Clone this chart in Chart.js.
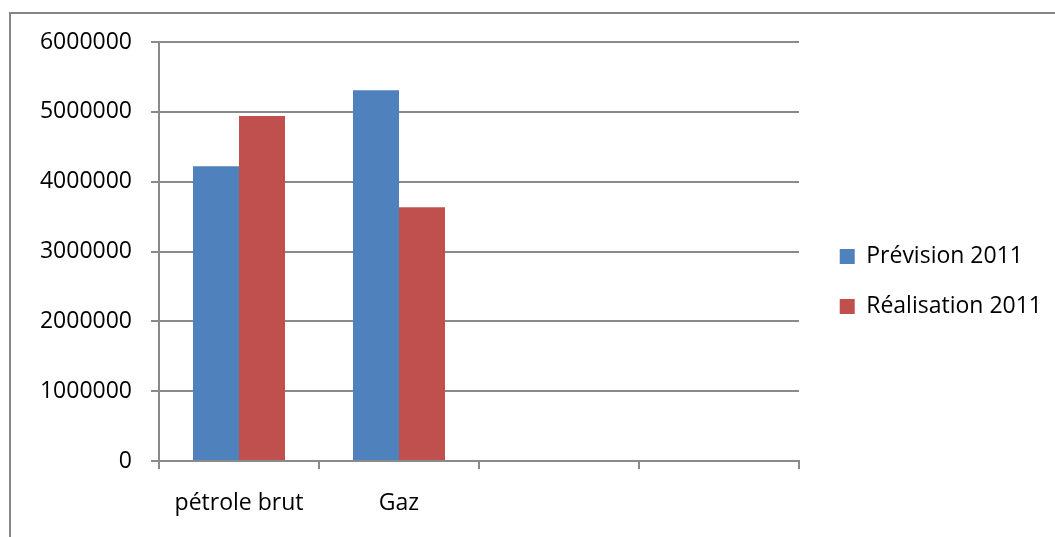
<!DOCTYPE html>
<html>
<head>
    <meta charset="utf-8">
    <title>Prévision / Réalisation 2011</title>
    <script src="https://cdn.jsdelivr.net/npm/chart.js@4.4.0/dist/chart.umd.min.js"></script>
    <style>
    html, body {
        margin: 0;
        padding: 0;
        background: #fff;
        overflow: hidden;
    }
    #cadre {
        position: absolute;
        left: 9px;
        top: 12px;
        width: 1200px;
        height: 700px;
        border-left: 2px solid #868686;
        border-top: 2px solid #868686;
    }
    canvas {
        position: absolute;
        left: 0;
        top: 0;
        display: block;
    }
    </style>
</head>
<body>
    <div id="cadre"></div>
    <canvas id="myChart" width="1055" height="537"></canvas>

    <script>
      const categories = ['pétrole brut', 'Gaz', '', ''];
      const prevision2011 = [4220000, 5310000, null, null];
      const realisation2011 = [4940000, 3635000, null, null];
      const yTicks = [0, 1000000, 2000000, 3000000, 4000000, 5000000, 6000000];

      const gris = '#8a8a8a';
      const droiteGraphe = 799; // bord droit de la zone de tracé
      const margeDroite = 3;
      Chart.defaults.font.family = "'Open Sans', sans-serif";
      Chart.defaults.font.size = 23;
      Chart.defaults.color = '#000';

      // la police doit être prête avant de mesurer la légende
      document.fonts.load("23px 'Open Sans'").then(dessiner, dessiner);

      function dessiner() {
        const ctx = document.getElementById('myChart').getContext('2d');
        const myChart = new Chart(ctx, {
          type: 'bar',
          data: {
            labels: categories,
            datasets: [
              {
                label: 'Prévision 2011',
                data: prevision2011,
                backgroundColor: '#4F81BD',
                categoryPercentage: 0.575,
                barPercentage: 1.0
              },
              {
                label: 'Réalisation 2011',
                data: realisation2011,
                backgroundColor: '#C0504D',
                categoryPercentage: 0.575,
                barPercentage: 1.0
              }
            ]
          },
          options: {
            responsive: false,
            animation: false,
            layout: { padding: { left: 0, top: 42, right: margeDroite, bottom: 16 } },
            plugins: {
              tooltip: { enabled: false },
              legend: {
                position: 'right',
                maxWidth: 320,
                labels: {
                  boxWidth: 15,
                  boxHeight: 15,
                  padding: 27,
                  color: '#000'
                }
              }
            },
            scales: {
              x: {
                grid: {
                  offset: true,
                  drawOnChartArea: false,
                  color: gris,
                  lineWidth: 2,
                  tickLength: 8
                },
                border: { color: gris, width: 2 },
                ticks: { padding: 21, maxRotation: 0 },
                afterFit: s => { s.height = 60; }
              },
              y: {
                min: 0,
                max: 6000000,
                afterBuildTicks: s => { s.ticks = yTicks.map(v => ({ value: v })); },
                grid: { color: gris, lineWidth: 2, tickLength: 8 },
                border: { color: gris, width: 2 },
                ticks: { padding: 19, callback: v => String(v) },
                afterFit: s => { s.width = 159; }
              },
              spacer: {
                type: 'linear',
                position: 'right',
                grid: { display: false },
                border: { display: false },
                ticks: { display: false },
                afterFit: s => {
                  const leg = s.chart.legend ? s.chart.legend.width : 0;
                  s.width = Math.max(0, s.chart.width - margeDroite - droiteGraphe - leg);
                }
              }
            }
          }
        });
      }
    </script>
</body>
</html>
